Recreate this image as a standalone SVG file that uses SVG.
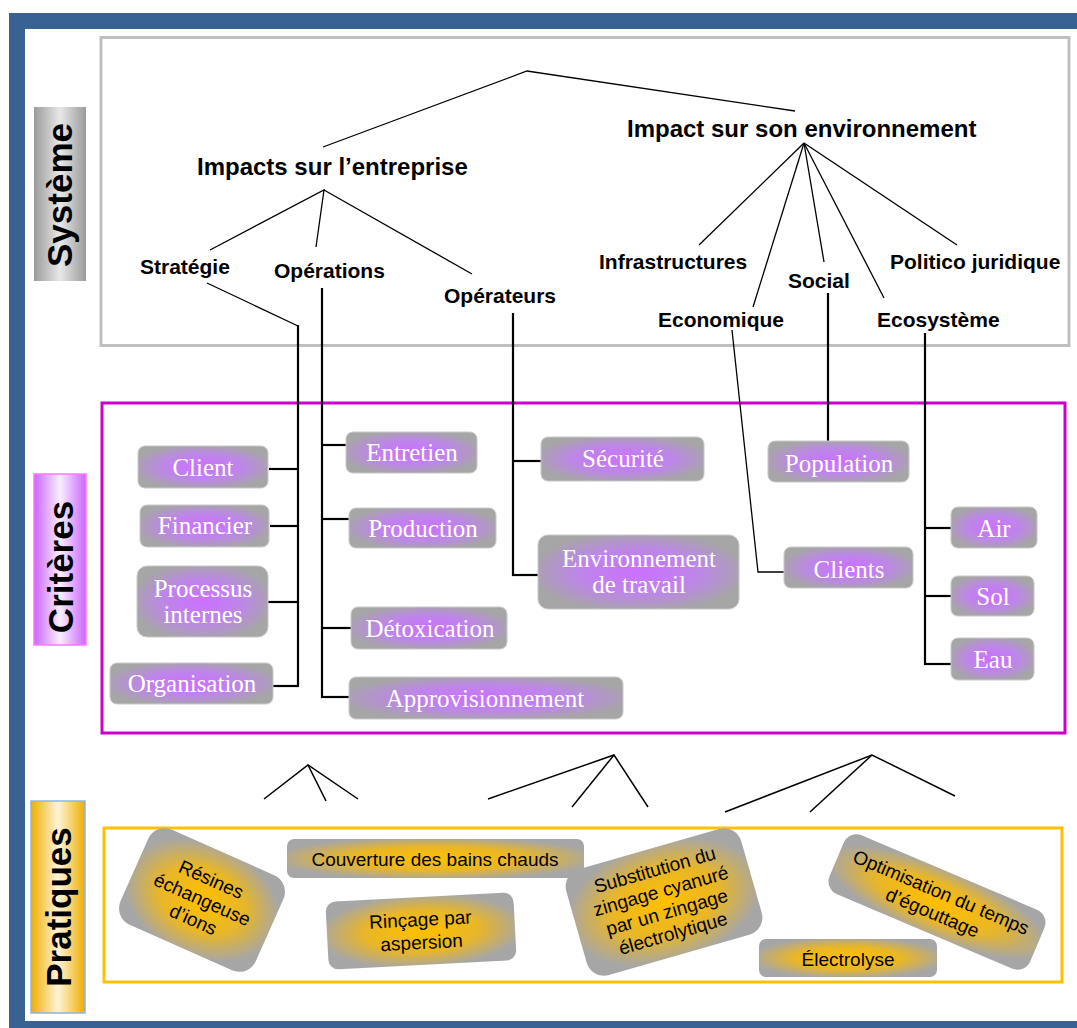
<svg xmlns="http://www.w3.org/2000/svg" width="1077" height="1028" viewBox="0 0 1077 1028">
<defs>
<radialGradient id="gP" cx="50%" cy="50%" r="55%">
<stop offset="0" stop-color="#CC70FF"/>
<stop offset="0.55" stop-color="#BD86E8"/>
<stop offset="1" stop-color="#A6A6A6"/>
</radialGradient>
<radialGradient id="gG" cx="50%" cy="50%" r="55%">
<stop offset="0" stop-color="#FFC000"/>
<stop offset="0.55" stop-color="#E8B628"/>
<stop offset="1" stop-color="#A6A6A6"/>
</radialGradient>
<linearGradient id="lS" x1="0" y1="0" x2="1" y2="0">
<stop offset="0" stop-color="#9A9A9A"/>
<stop offset="0.5" stop-color="#E8E8E8"/>
<stop offset="1" stop-color="#9A9A9A"/>
</linearGradient>
<linearGradient id="lC" x1="0" y1="0" x2="1" y2="0">
<stop offset="0" stop-color="#CC66FF"/>
<stop offset="0.5" stop-color="#F8EEFF"/>
<stop offset="1" stop-color="#CC66FF"/>
</linearGradient>
<linearGradient id="lPr" x1="0" y1="0" x2="1" y2="0">
<stop offset="0" stop-color="#EEAE00"/>
<stop offset="0.5" stop-color="#FFF4D8"/>
<stop offset="1" stop-color="#EEAE00"/>
</linearGradient>
</defs>
<style>
.lab{font-family:"Liberation Sans",Arial,sans-serif;font-weight:bold;font-size:35px;fill:#000}
.t1{font-family:"Liberation Sans",Arial,sans-serif;font-weight:bold;font-size:24px;fill:#000}
.t2{font-family:"Liberation Sans",Arial,sans-serif;font-weight:bold;font-size:21px;fill:#000}
.cb{fill:url(#gP);stroke:#C9C9C9;stroke-width:1}
.ct{font-family:"Liberation Serif","Times New Roman",serif;font-size:25px;fill:#FFFFFF;text-anchor:middle}
.pb{fill:url(#gG)}
.pt{font-family:"Liberation Sans",Arial,sans-serif;font-size:19px;fill:#000;text-anchor:middle}
.thin{stroke:#000;stroke-width:1.3;fill:none}
.thick{stroke:#000;stroke-width:2.2;fill:none}
.mid{stroke:#000;stroke-width:1.5;fill:none}
</style>
<!-- frame -->
<rect x="9" y="13" width="1080" height="1030" fill="#386291"/>
<rect x="25" y="29" width="1060" height="992" fill="#FFFFFF"/>
<!-- section frames -->
<g id="systeme">
<rect x="101" y="37.5" width="968" height="308" fill="none" stroke="#BFBFBF" stroke-width="3"/>
<rect x="34" y="107" width="52" height="174" fill="url(#lS)"/>
<text class="lab" text-anchor="middle" transform="translate(72,195) rotate(-90)">Système</text>
</g>
<g id="criteres">
<rect x="102" y="403" width="963" height="330" fill="none" stroke="#CC00CC" stroke-width="3"/>
<rect x="34" y="474" width="52" height="171" fill="url(#lC)" stroke="#FF77FF" stroke-width="1.5"/>
<text class="lab" text-anchor="middle" transform="translate(73,567) rotate(-90)">Critères</text>
</g>
<g id="pratiques">
<rect x="104" y="828" width="958" height="154" fill="none" stroke="#FFC000" stroke-width="3"/>
<rect x="31" y="801" width="54" height="212" fill="url(#lPr)" stroke="#8EB4E3" stroke-width="1.5"/>
<text class="lab" text-anchor="middle" transform="translate(71,907) rotate(-90)">Pratiques</text>
</g>
<!-- connectors -->
<g id="connectors">
<polyline class="thin" points="323,147 527,71 795,111"/>
<polyline class="thin" points="210,250 324,190 316,247"/>
<line class="thin" x1="324" y1="190" x2="472" y2="274"/>
<line class="thin" x1="804" y1="143" x2="699" y2="245"/>
<line class="thin" x1="804" y1="143" x2="753" y2="307"/>
<line class="thin" x1="804" y1="143" x2="824" y2="262"/>
<line class="thin" x1="804" y1="143" x2="884" y2="298"/>
<line class="thin" x1="804" y1="143" x2="957" y2="245"/>
<polyline class="thin" points="207,283 298,326"/>
<line class="thick" x1="298" y1="325" x2="298" y2="687"/>
<line class="thick" x1="269" y1="469" x2="298" y2="469"/>
<line class="thick" x1="270" y1="526" x2="298" y2="526"/>
<line class="thick" x1="268" y1="602" x2="298" y2="602"/>
<line class="thick" x1="273" y1="686" x2="299" y2="686"/>
<line class="thick" x1="322" y1="288" x2="322" y2="698"/>
<line class="thick" x1="321" y1="445" x2="347" y2="445"/>
<line class="thick" x1="321" y1="519" x2="349" y2="519"/>
<line class="thick" x1="321" y1="628" x2="352" y2="628"/>
<line class="thick" x1="321" y1="697" x2="349" y2="697"/>
<line class="thick" x1="513" y1="313" x2="513" y2="576"/>
<line class="thick" x1="512" y1="461" x2="541" y2="461"/>
<line class="thick" x1="512" y1="575" x2="538" y2="575"/>
<polyline class="thin" points="732,330 758,572 785,572"/>
<line class="thick" x1="828" y1="293" x2="828" y2="442"/>
<line class="thick" x1="925" y1="333" x2="925" y2="665"/>
<line class="thick" x1="924" y1="528" x2="952" y2="528"/>
<line class="thick" x1="924" y1="596" x2="952" y2="596"/>
<line class="thick" x1="924" y1="664" x2="952" y2="664"/>
<polyline class="mid" points="264,799 308,765 358,799"/>
<line class="mid" x1="308" y1="765" x2="326" y2="801"/>
<polyline class="mid" points="488,799 614,755 648,807"/>
<line class="mid" x1="614" y1="755" x2="572" y2="807"/>
<polyline class="mid" points="725,812 872,755 955,796"/>
<line class="mid" x1="872" y1="755" x2="810" y2="812"/>
</g>
<!-- top tree labels -->
<g id="n-entreprise"><text class="t1" x="197" y="175">Impacts sur l’entreprise</text></g>
<g id="n-environnement"><text class="t1" x="627" y="137">Impact sur son environnement</text></g>
<g id="n-strategie"><text class="t2" x="140" y="274">Stratégie</text></g>
<g id="n-operations"><text class="t2" x="274" y="278">Opérations</text></g>
<g id="n-operateurs"><text class="t2" x="444" y="303">Opérateurs</text></g>
<g id="n-infra"><text class="t2" x="599" y="269">Infrastructures</text></g>
<g id="n-social"><text class="t2" x="788" y="288">Social</text></g>
<g id="n-politico"><text class="t2" x="890" y="269">Politico juridique</text></g>
<g id="n-economique"><text class="t2" x="658" y="327">Economique</text></g>
<g id="n-ecosysteme"><text class="t2" x="877" y="327">Ecosystème</text></g>
<!-- criteria -->
<g id="c-client"><rect class="cb" x="138" y="446" width="130" height="42" rx="7"/><text class="ct" x="203" y="476">Client</text></g>
<g id="c-financier"><rect class="cb" x="140" y="505" width="129" height="42" rx="7"/><text class="ct" x="205" y="534">Financier</text></g>
<g id="c-processus"><rect class="cb" x="137" y="566" width="131" height="71" rx="10"/><text class="ct" x="203" y="597">Processus</text><text class="ct" x="203" y="623">internes</text></g>
<g id="c-organisation"><rect class="cb" x="110" y="663" width="163" height="41" rx="7"/><text class="ct" x="192" y="692">Organisation</text></g>
<g id="c-entretien"><rect class="cb" x="346" y="432" width="131" height="41" rx="7"/><text class="ct" x="412" y="461">Entretien</text></g>
<g id="c-production"><rect class="cb" x="349" y="508" width="147" height="40" rx="7"/><text class="ct" x="423" y="537">Production</text></g>
<g id="c-detox"><rect class="cb" x="351" y="607" width="156" height="42" rx="7"/><text class="ct" x="430" y="637">Détoxication</text></g>
<g id="c-appro"><rect class="cb" x="349" y="677" width="274" height="42" rx="7"/><text class="ct" x="485" y="707">Approvisionnement</text></g>
<g id="c-securite"><rect class="cb" x="541" y="437" width="163" height="44" rx="7"/><text class="ct" x="623" y="467">Sécurité</text></g>
<g id="c-envtravail"><rect class="cb" x="538" y="535" width="201" height="74" rx="10"/><text class="ct" x="639" y="567">Environnement</text><text class="ct" x="639" y="593">de travail</text></g>
<g id="c-population"><rect class="cb" x="768" y="441" width="141" height="41" rx="7"/><text class="ct" x="839" y="472">Population</text></g>
<g id="c-clients"><rect class="cb" x="784" y="547" width="129" height="41" rx="7"/><text class="ct" x="849" y="578">Clients</text></g>
<g id="c-air"><rect class="cb" x="951" y="507" width="86" height="41" rx="7"/><text class="ct" x="994" y="537">Air</text></g>
<g id="c-sol"><rect class="cb" x="951" y="576" width="83" height="40" rx="7"/><text class="ct" x="993" y="605">Sol</text></g>
<g id="c-eau"><rect class="cb" x="951" y="638" width="83" height="42" rx="7"/><text class="ct" x="993" y="668">Eau</text></g>
<!-- practices -->
<g id="p-resines" transform="translate(202,900) rotate(24)">
<rect class="pb" x="-74" y="-52" width="148" height="104" rx="18"/>
<text class="pt" x="0" y="-16">Résines</text>
<text class="pt" x="0" y="6">échangeuse</text>
<text class="pt" x="0" y="28">d’ions</text>
</g>
<g id="p-couverture"><rect class="pb" x="287" y="839" width="297" height="39" rx="7"/><text class="pt" x="435" y="866">Couverture des bains chauds</text></g>
<g id="p-rincage" transform="translate(421,931) rotate(-3)">
<rect class="pb" x="-94" y="-34" width="188" height="68" rx="10"/>
<text class="pt" x="0" y="-5">Rinçage par</text>
<text class="pt" x="0" y="18">aspersion</text>
</g>
<g id="p-substitution" transform="translate(664,902) rotate(-16)">
<rect class="pb" x="-91" y="-55" width="182" height="110" rx="18"/>
<text class="pt" x="0" y="-27">Substitution du</text>
<text class="pt" x="0" y="-5">zingage cyanuré</text>
<text class="pt" x="0" y="17">par un zingage</text>
<text class="pt" x="0" y="39">électrolytique</text>
</g>
<g id="p-optimisation" transform="translate(937,902) rotate(23)">
<rect class="pb" x="-109" y="-32" width="218" height="64" rx="14"/>
<text class="pt" x="0" y="-4">Optimisation du temps</text>
<text class="pt" x="0" y="18">d’égouttage</text>
</g>
<g id="p-electrolyse"><rect class="pb" x="759" y="939" width="178" height="38" rx="7"/><text class="pt" x="848" y="966">Électrolyse</text></g>
</svg>
